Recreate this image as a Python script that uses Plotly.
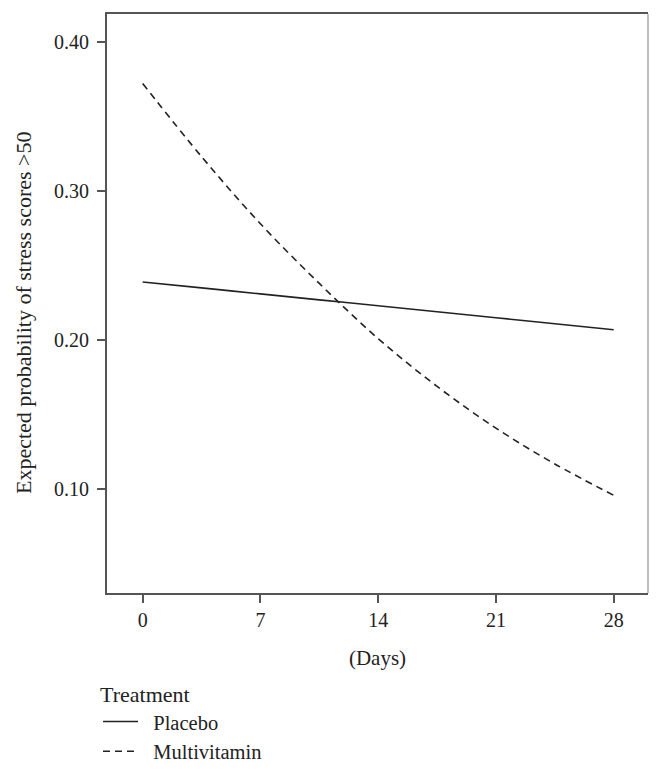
import plotly.graph_objects as go

days = [0, 3.5, 7, 10.5, 14, 17.5, 21, 24.5, 28]
placebo = [0.239, 0.235, 0.231, 0.227, 0.223, 0.219, 0.215, 0.211, 0.207]
multivitamin = [0.372, 0.323, 0.278, 0.238, 0.201, 0.169, 0.141, 0.117, 0.096]
x_ticks = [0, 7, 14, 21, 28]
y_ticks = [0.10, 0.20, 0.30, 0.40]
y_tick_labels = ["0.10", "0.20", "0.30", "0.40"]
series_names = ["Placebo", "Multivitamin"]

FONT = "Liberation Serif, DejaVu Serif, serif"
AX = "#555555"
PAD = "\u00a0\u00a0"

fig = go.Figure()
fig.add_trace(go.Scatter(x=days, y=placebo, mode="lines", name=PAD + series_names[0],
                         line=dict(color="#222222", width=1.6, shape="spline")))
fig.add_trace(go.Scatter(x=days, y=multivitamin, mode="lines", name=PAD + series_names[1],
                         line=dict(color="#222222", width=1.6, dash="7px,5px", shape="spline")))

fig.update_layout(
    width=663, height=774,
    margin=dict(l=107, r=15, t=14, b=181, autoexpand=False),
    paper_bgcolor="white", plot_bgcolor="white",
    font=dict(family=FONT, size=20, color="#222222"),
    showlegend=True,
    legend=dict(
        title=dict(text="Treatment", font=dict(size=22)),
        x=-0.0166, xanchor="left", y=-0.1384, yanchor="top",
        font=dict(size=20.5), itemwidth=35, tracegroupgap=0,
        bgcolor="rgba(0,0,0,0)",
    ),
)
fig.update_xaxes(
    range=[-2.12, 30.04], tickvals=x_ticks, ticktext=[str(v) for v in x_ticks],
    showgrid=False, zeroline=False, showline=True, linecolor=AX, linewidth=2, mirror=True,
    ticks="outside", ticklen=8, tickwidth=2, tickcolor=AX, automargin=False,
    tickfont=dict(size=20, family=FONT, color="#222222"),
    title=dict(text="(Days)", font=dict(size=21, family=FONT), standoff=20),
)
fig.update_yaxes(
    range=[0.0305, 0.4186], tickvals=y_ticks, ticktext=y_tick_labels,
    showgrid=False, zeroline=False, showline=True, linecolor=AX, linewidth=2,
    ticks="outside", ticklen=8, tickwidth=2, tickcolor=AX, ticklabelstandoff=4, automargin=False,
    tickfont=dict(size=20, family=FONT, color="#222222"),
)
fig.add_annotation(text="Expected probability of stress scores >50", textangle=-90,
                   xref="paper", yref="paper", x=0, y=0.4836, xshift=-83,
                   xanchor="center", yanchor="middle", showarrow=False,
                   font=dict(size=22, family=FONT, color="#222222"))
fig.add_shape(type="line", xref="paper", yref="paper", x0=1, x1=1, y0=0, y1=1,
              line=dict(color="#aaaaaa", width=1.5))

fig.write_html("out.html", config={"displayModeBar": False},
               post_script="document.body.style.margin='0';document.body.style.padding='0';")
